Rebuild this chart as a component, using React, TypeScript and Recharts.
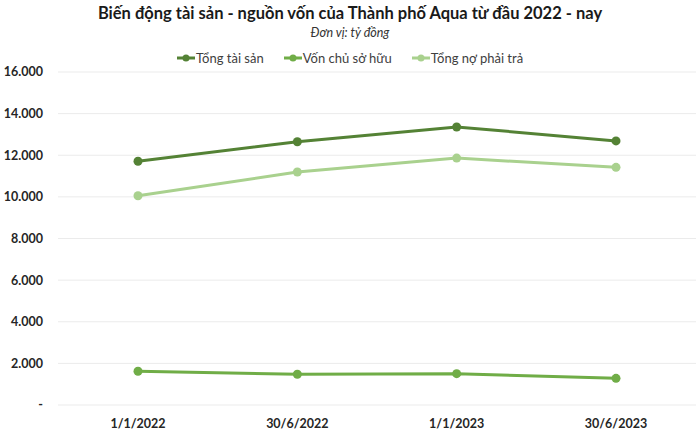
import { CartesianGrid, Line, LineChart, XAxis, YAxis } from "recharts";

// Kỳ báo cáo
const periods = ["1/1/2022", "30/6/2022", "1/1/2023", "30/6/2023"];
// tỷ đồng
const tongTaiSan = [11710, 12650, 13360, 12690];
const vonChuSoHuu = [1620, 1475, 1505, 1280];
const tongNoPhaiTra = [10055, 11195, 11865, 11420];
const yTicks = [0, 2000, 4000, 6000, 8000, 10000, 12000, 14000, 16000];

const series = [
  { key: "tongTaiSan", name: "Tổng tài sản", color: "#548235" },
  { key: "vonChuSoHuu", name: "Vốn chủ sở hữu", color: "#70AD47" },
  { key: "tongNoPhaiTra", name: "Tổng nợ phải trả", color: "#A9D18E" },
];

const data = periods.map((p, i) => ({
  period: p,
  tongTaiSan: tongTaiSan[i],
  vonChuSoHuu: vonChuSoHuu[i],
  tongNoPhaiTra: tongNoPhaiTra[i],
}));

const FONT = "Lato, 'Open Sans', sans-serif";

const fmt = (v: number) =>
  v === 0 ? "-" : v.toLocaleString("de-DE", { maximumFractionDigits: 0 });

function LegendRow() {
  return (
    <div
      style={{
        position: "absolute",
        top: 50,
        width: 700,
        display: "flex",
        justifyContent: "center",
        gap: 20,
        fontFamily: FONT,
        fontSize: 13,
        color: "#404040",
      }}
    >
      {series.map((s) => (
        <span key={s.key} style={{ display: "flex", alignItems: "center" }}>
          <svg width={18} height={10} style={{ marginRight: 1 }}>
            <line x1={0} y1={5} x2={18} y2={5} stroke={s.color} strokeWidth={3} />
            <circle cx={9} cy={5} r={3.5} fill={s.color} />
          </svg>
          {s.name}
        </span>
      ))}
    </div>
  );
}

export default function App() {
  return (
    <div style={{ position: "absolute", left: 0, top: 0, width: 700, height: 431, background: "#fff" }}>
      <LineChart
        width={700}
        height={431}
        data={data}
        margin={{ top: 72, right: 4, bottom: 0, left: 0 }}
      >
        <CartesianGrid vertical={false} stroke="#ebebeb" strokeWidth={1} />
        <XAxis
          dataKey="period"
          axisLine={false}
          tickLine={false}
          height={26}
          tickMargin={8}
          padding={{ left: 80, right: 80 }}
          tick={{ fontFamily: FONT, fontWeight: 700, fontSize: 12.5, fill: "#262626" }}
        />
        <YAxis
          width={58}
          domain={[0, 16000]}
          ticks={yTicks}
          interval={0}
          axisLine={false}
          tickLine={false}
          tickMargin={9}
          tickFormatter={fmt}
          tick={{ fontFamily: FONT, fontWeight: 700, fontSize: 12.5, fill: "#262626" }}
        />
        {series.map((s) => (
          <Line
            key={s.key}
            dataKey={s.key}
            name={s.name}
            stroke={s.color}
            strokeWidth={3}
            dot={{ r: 4.5, fill: s.color, stroke: s.color, strokeWidth: 0 }}
            activeDot={false}
            isAnimationActive={false}
          />
        ))}
      </LineChart>
      <div
        style={{
          position: "absolute",
          top: 3,
          width: 700,
          textAlign: "center",
          fontFamily: FONT,
          fontWeight: 700,
          fontSize: 16.5,
          color: "#1a1a1a",
        }}
      >
        Biến động tài sản - nguồn vốn của Thành phố Aqua từ đầu 2022 - nay
      </div>
      <div
        style={{
          position: "absolute",
          top: 25,
          width: 700,
          textAlign: "center",
          fontFamily: FONT,
          fontStyle: "italic",
          fontSize: 12.5,
          color: "#333",
        }}
      >
        Đơn vị: tỷ đồng
      </div>
      <LegendRow />
    </div>
  );
}
